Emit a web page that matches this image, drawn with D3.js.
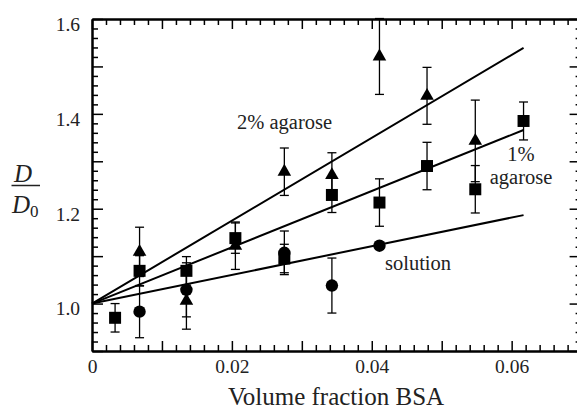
<!DOCTYPE html>
<html>
<head>
<meta charset="utf-8">
<script src="https://cdn.jsdelivr.net/npm/d3@7"></script>
<style>
  html, body { margin: 0; padding: 0; background: #fff; }
  svg { display: block; font-family: "Liberation Serif", "Times New Roman", serif; }
  .axis path, .axis line { stroke: #000; }
  .axis path { stroke-width: 2; }
  .axis line { stroke-width: 1.5; }
  .axis text { font-size: 19.5px; fill: #222; font-family: "Liberation Serif", serif; }
  .fit { fill: none; stroke: #000; stroke-width: 2; }
  .err { stroke: #000; stroke-width: 1.3; fill: none; }
  .note { font-size: 20.5px; fill: #222; }
</style>
</head>
<body>
<svg id="chart" width="577" height="410"></svg>
<script>
/* ── data ── */
const xFrac    = [0.0033, 0.0068, 0.0135, 0.0205, 0.0275, 0.0343, 0.0411, 0.0479, 0.0548, 0.0617];

const sqVals   = [0.970, 1.069, 1.069, 1.138, 1.095, 1.229, 1.213, 1.290, 1.241, 1.385];   // 1% agarose
const sqErr    = [0.030, 0.032, 0.030, 0.032, 0.030, 0.037, 0.050, 0.050, 0.050, 0.040];

const triVals  = [null, 1.109, 1.006, 1.122, 1.278, 1.271, 1.521, 1.438, 1.343, null];     // 2% agarose
const triErr   = [null, 0.052, 0.060, 0.050, 0.050, 0.047, 0.080, 0.060, 0.086, null];

const cirVals  = [null, 0.983, 1.029, null, 1.107, 1.038, 1.122, null, null, null];         // solution
const cirErr   = [null, 0.055, 0.057, null, 0.046, 0.058, 0, null, null, null];

// fitted lines: D/D0 at x = 0 and at x = fitXEnd
const fitXEnd  = 0.0617;
const fitStart = [1.0, 1.0, 1.0];            // 2%, 1%, solution
const fitEnd   = [1.539, 1.366, 1.1865];

const xMajor   = [0, 0.01, 0.02, 0.03, 0.04, 0.05, 0.06, 0.07];
const xLabels  = [0, 0.02, 0.04, 0.06];
const yMajor   = [0.9, 1.0, 1.1, 1.2, 1.3, 1.4, 1.5, 1.6];
const yLabels  = [1.0, 1.2, 1.4, 1.6];

(function () {
  "use strict";

  const svg = d3.select("#chart");
  const L = 92, R = 581.6, T = 19, B = 351;

  const x = d3.scaleLinear().domain([0, 0.07]).range([L, R]);
  const y = d3.scaleLinear().domain([0.9, 1.6]).range([B, T]);

  const xMinor = d3.range(0, 0.0701, 0.002).filter(v => Math.abs(v * 100 - Math.round(v * 100)) > 1e-6);
  const yMinor = d3.range(0.9, 1.6001, 0.02).filter(v => Math.abs(v * 10 - Math.round(v * 10)) > 1e-6);

  const fmtX = d => xLabels.some(v => Math.abs(v - d) < 1e-9) ? (d === 0 ? "0" : d3.format(".2f")(d)) : "";
  const fmtY = d => yLabels.some(v => Math.abs(v - d) < 1e-9) ? d3.format(".1f")(d) : "";

  /* ── frame + ticks ── */
  const gAx = svg.append("g");

  // bottom
  gAx.append("g").attr("class", "axis").attr("transform", `translate(0,${B})`)
    .call(d3.axisBottom(x).tickValues(xMinor).tickSizeInner(-6).tickSizeOuter(0).tickFormat(""));
  gAx.append("g").attr("class", "axis").attr("transform", `translate(0,${B})`)
    .call(d3.axisBottom(x).tickValues(xMajor).tickSizeInner(-10).tickSizeOuter(0).tickPadding(8).tickFormat(fmtX));
  // top
  gAx.append("g").attr("class", "axis").attr("transform", `translate(0,${T})`)
    .call(d3.axisTop(x).tickValues(xMinor).tickSizeInner(-6).tickSizeOuter(0).tickFormat(""));
  gAx.append("g").attr("class", "axis").attr("transform", `translate(0,${T})`)
    .call(d3.axisTop(x).tickValues(xMajor).tickSizeInner(-10).tickSizeOuter(0).tickFormat(""));
  // left
  gAx.append("g").attr("class", "axis").attr("transform", `translate(${L},0)`)
    .call(d3.axisLeft(y).tickValues(yMinor).tickSizeInner(-6).tickSizeOuter(0).tickFormat(""));
  const gLeft = gAx.append("g").attr("class", "axis").attr("transform", `translate(${L},0)`)
    .call(d3.axisLeft(y).tickValues(yMajor).tickSizeInner(-11).tickSizeOuter(0).tickPadding(12).tickFormat(fmtY));
  gLeft.selectAll("text").attr("dy", "0.58em");
  // right
  gAx.append("g").attr("class", "axis").attr("transform", `translate(${R},0)`)
    .call(d3.axisRight(y).tickValues(yMinor).tickSizeInner(-6).tickSizeOuter(0).tickFormat(""));
  gAx.append("g").attr("class", "axis").attr("transform", `translate(${R},0)`)
    .call(d3.axisRight(y).tickValues(yMajor).tickSizeInner(-12).tickSizeOuter(0).tickFormat(""));

  /* ── fitted lines ── */
  const line = d3.line().x(d => x(d[0])).y(d => y(d[1]));
  fitStart.forEach((v0, i) => {
    svg.append("path").attr("class", "fit")
      .attr("d", line([[0, v0], [fitXEnd, fitEnd[i]]]));
  });

  /* ── error bars + markers ── */
  const series = [
    { vals: sqVals,  err: sqErr,  sym: d3.symbolSquare,   size: 144 },
    { vals: triVals, err: triErr, sym: d3.symbolTriangle, size: 80 },
    { vals: cirVals, err: cirErr, sym: d3.symbolCircle,   size: 121 }
  ];

  const gErr = svg.append("g");
  const gPts = svg.append("g");
  const cap = 4.5;

  series.forEach(s => {
    const pts = xFrac.map((xv, i) => ({ x: xv, v: s.vals[i], e: s.err[i] }))
      .filter(d => d.v != null);

    pts.filter(d => d.e > 0).forEach(d => {
      const cx = x(d.x), y1 = y(d.v + d.e), y2 = y(d.v - d.e);
      gErr.append("line").attr("class", "err").attr("x1", cx).attr("x2", cx).attr("y1", y1).attr("y2", y2);
      gErr.append("line").attr("class", "err").attr("x1", cx - cap).attr("x2", cx + cap).attr("y1", y1).attr("y2", y1);
      gErr.append("line").attr("class", "err").attr("x1", cx - cap).attr("x2", cx + cap).attr("y1", y2).attr("y2", y2);
    });

    gPts.selectAll(null).data(pts).join("path")
      .attr("transform", d => `translate(${x(d.x)},${y(d.v)})`)
      .attr("d", d3.symbol().type(s.sym).size(s.size))
      .attr("fill", "#000");
  });

  /* ── annotations ── */
  svg.append("text").attr("class", "note").attr("x", 237).attr("y", 129).text("2% agarose");
  svg.append("text").attr("class", "note").attr("text-anchor", "middle")
    .attr("x", 521).attr("y", 160.5).text("1%");
  svg.append("text").attr("class", "note").attr("text-anchor", "middle")
    .attr("x", 521).attr("y", 184).text("agarose");
  svg.append("text").attr("class", "note").attr("x", 385).attr("y", 270).text("solution");

  /* ── axis titles ── */
  svg.append("text").attr("x", 336).attr("y", 405).attr("text-anchor", "middle")
    .attr("font-size", 25).attr("fill", "#222").text("Volume fraction BSA");

  const gY = svg.append("g").attr("fill", "#222");
  gY.append("text").attr("x", 23).attr("y", 182).attr("text-anchor", "middle")
    .attr("font-size", 25).attr("font-style", "italic").text("D");
  gY.append("line").attr("x1", 11.5).attr("x2", 40).attr("y1", 185.5).attr("y2", 185.5)
    .attr("stroke", "#222").attr("stroke-width", 1.5);
  const d0 = gY.append("text").attr("x", 12).attr("y", 213).attr("font-size", 25);
  d0.append("tspan").attr("font-style", "italic").text("D");
  d0.append("tspan").attr("font-size", 17).attr("dy", 4).text("0");
})();
</script>
</body>
</html>
